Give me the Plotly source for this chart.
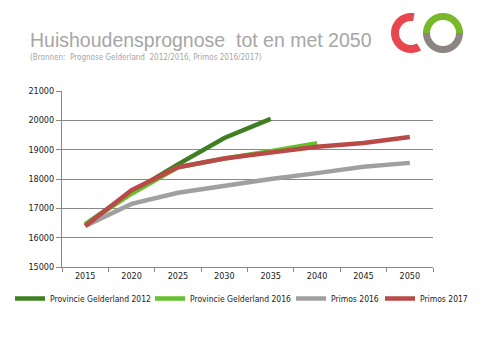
import numpy as np
import plotly.graph_objects as go

years = ["2015", "2020", "2025", "2030", "2035", "2040", "2045", "2050"]
pg2012 = [16450, 17550, 18500, 19400, 20050, None, None, None]
pg2016 = [16450, 17500, 18400, 18700, 18950, 19220, None, None]
primos2016 = [16400, 17150, 17530, 17780, 18000, 18200, 18420, 18550]
primos2017 = [16400, 17620, 18400, 18700, 18900, 19100, 19230, 19430]

names = ["Provincie Gelderland 2012", "Provincie Gelderland 2016", "Primos 2016", "Primos 2017"]
colors = ["#3f7f22", "#66c12e", "#a0a0a0", "#b94a48"]
series = [pg2012, pg2016, primos2016, primos2017]
legend_ids = ["legend", "legend2", "legend3", "legend4"]
legend_left_px = [10, 150, 291, 380]

W, H = 480, 360
L, R, T, B = 62, 433, 91, 267
FONT = "Liberation Sans Narrow, DejaVu Sans Condensed, Liberation Sans, Arial"

def px(x):
    return (x - L) / (R - L)

def py(y):
    return (B - y) / (B - T)

fig = go.Figure()
for n, c, s, lg in zip(names, colors, series, legend_ids):
    fig.add_trace(go.Scatter(x=years, y=s, name=n, mode="lines", legend=lg,
                             line=dict(color=c, width=4.5), connectgaps=False))

def arc_path(cx, cy, r1, r2, a0, a1, n=60):
    a = np.radians(np.linspace(a0, a1, n))
    xo = cx + r2 * np.cos(a); yo = cy - r2 * np.sin(a)
    xi = cx + r1 * np.cos(a[::-1]); yi = cy - r1 * np.sin(a[::-1])
    pts = list(zip(xo, yo)) + list(zip(xi, yi))
    return "M " + " L ".join(f"{px(x):.4f},{py(y):.4f}" for x, y in pts) + " Z"

shapes = [
    dict(type="path", xref="paper", yref="paper", path=arc_path(411, 33, 12, 20, 80, 300),
         fillcolor="#e8474d", line=dict(width=0), layer="above"),
    dict(type="path", xref="paper", yref="paper", path=arc_path(443, 33, 13, 20, 0, 180),
         fillcolor="#78b92a", line=dict(width=0), layer="above"),
    dict(type="path", xref="paper", yref="paper", path=arc_path(443, 33, 13, 20, 180, 360),
         fillcolor="rgba(128,120,116,0.9)", line=dict(width=0), layer="above"),
]

legend_common = dict(orientation="h", xanchor="left", yanchor="top", y=py(284),
                     font=dict(size=8.5, color="#222", family=FONT), itemwidth=30,
                     bgcolor="rgba(0,0,0,0)", borderwidth=0)
legends = {}
for lg, lx in zip(legend_ids, legend_left_px):
    legends[lg] = dict(legend_common, x=px(lx))

fig.update_layout(
    width=W, height=H,
    margin=dict(l=L, r=W - R, t=T, b=H - B, autoexpand=False),
    paper_bgcolor="white", plot_bgcolor="white",
    font=dict(family=FONT, size=9, color="#222"),
    showlegend=True,
    xaxis=dict(type="category", tickson="boundaries", ticks="outside", ticklen=4,
               range=[-0.5, 7.5], tickcolor="#888", showline=True, linecolor="#888",
               linewidth=1, showgrid=False, tickfont=dict(size=9, color="#222"),
               fixedrange=True),
    yaxis=dict(range=[15000, 21000], dtick=1000, tickformat="d", ticks="outside", ticklen=5,
               tickcolor="#888", showline=True, linecolor="#888", linewidth=1,
               showgrid=True, gridcolor="#888", gridwidth=1, zeroline=False,
               tickfont=dict(size=9, color="#222"), fixedrange=True),
    shapes=shapes,
    annotations=[
        dict(text="Huishoudensprognose  tot en met 2050", xref="paper", yref="paper",
             x=px(28), y=py(40), xanchor="left", yanchor="middle", showarrow=False,
             font=dict(size=19.5, color="#a6a6a6", family="Liberation Sans, Arial")),
        dict(text="(Bronnen:  Prognose Gelderland  2012/2016, Primos 2016/2017)", xref="paper", yref="paper",
             x=px(28), y=py(57), xanchor="left", yanchor="middle", showarrow=False,
             font=dict(size=8, color="#a6a6a6", family=FONT)),
    ],
    **legends,
)

fig.write_html("out.html", config={"displayModeBar": False},
               post_script="document.body.style.margin='0';")
